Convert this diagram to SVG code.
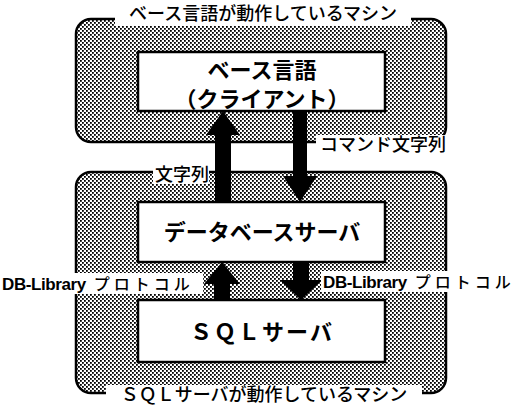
<svg xmlns="http://www.w3.org/2000/svg" width="516" height="405" viewBox="0 0 516 405">
<defs>
<pattern id="dots" width="4" height="4" patternUnits="userSpaceOnUse">
<rect width="4" height="4" fill="#fff"/>
<rect x="0" y="0" width="1.8" height="1.8" fill="#000"/>
<rect x="2" y="2" width="1.8" height="1.8" fill="#000"/>
</pattern>
<style>
.machine{fill:url(#dots);stroke:#000;stroke-width:2.5}
.box{fill:#fff;stroke:#000;stroke-width:2.5}
.lbl{font-family:"Noto Sans CJK JP","Noto Sans",sans-serif;font-size:18px;font-weight:500;fill:#000}
.title{font-family:"Noto Sans CJK JP","Noto Sans",sans-serif;font-size:22px;font-weight:700;fill:#000;text-anchor:middle}
.db{font-family:"Liberation Sans",Arial,sans-serif;font-weight:700;font-size:17px;letter-spacing:-0.4px}
.jp{font-family:"Noto Sans CJK JP",sans-serif;font-weight:500;font-size:16px;letter-spacing:4px}
.arrow{fill:#000}
</style>
</defs>
<rect width="516" height="405" fill="#fff"/>
<g id="machine-client">
<rect class="machine" x="76" y="19" width="370" height="123" rx="15"/>
<rect x="115" y="3" width="296" height="23" fill="#fff"/>
<text class="lbl" x="263" y="20" text-anchor="middle" font-size="19">ベース言語が動作しているマシン</text>
</g>
<g id="machine-sql">
<rect class="machine" x="76" y="172" width="370" height="221" rx="15"/>
<rect x="106" y="385" width="316" height="20" fill="#fff"/>
<text class="lbl" x="264" y="401" text-anchor="middle" font-size="19">ＳＱＬサーバが動作しているマシン</text>
</g>
<g id="client">
<rect class="box" x="138" y="52" width="247" height="59"/>
<text class="title" x="262" y="78" font-size="23">ベース言語</text>
<text class="title" x="262" y="107" font-size="14">（クライアント）</text>
</g>
<g id="dbserver">
<rect class="box" x="138" y="202" width="247" height="60"/>
<text class="title" x="262" y="240">データベースサーバ</text>
</g>
<g id="sqlserver">
<rect class="box" x="138" y="300" width="247" height="62"/>
<text class="title" x="262" y="340" font-size="21" letter-spacing="2">ＳＱＬサーバ</text>
</g>
<g id="connectors">
<polygon class="arrow" points="215,202 215,135 206,135 223,111 240,135 231,135 231,202"/>
<polygon class="arrow" points="293,111 293,176 283,176 300,202 317,176 307,176 307,111"/>
<polygon class="arrow" points="214,300 214,284 204,284 222,262 240,284 230,284 230,300"/>
<polygon class="arrow" points="293,262 293,280 280,280 301,300 322,280 309,280 309,262"/>
</g>
<g id="labels">
<rect x="316" y="135" width="132" height="18" fill="#fff"/>
<text class="lbl" x="320" y="151">コマンド文字列</text>
<rect x="153" y="166" width="56" height="18" fill="#fff"/>
<text class="lbl" x="155" y="181">文字列</text>
<rect x="0" y="273" width="203" height="21" fill="#fff"/>
<text x="2" y="290"><tspan class="db">DB-Library</tspan><tspan class="jp" dx="8">プロトコル</tspan></text>
<rect x="321" y="271" width="195" height="21" fill="#fff"/>
<text x="323" y="288"><tspan class="db">DB-Library</tspan><tspan class="jp" dx="8">プロトコル</tspan></text>
</g>
</svg>
